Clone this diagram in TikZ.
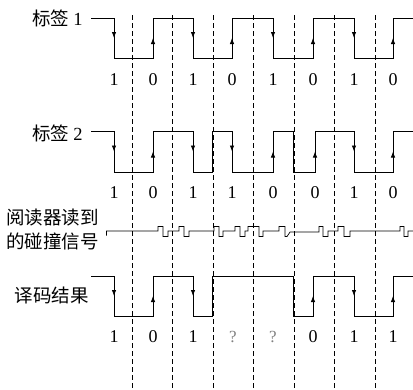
\documentclass[tikz,border=0pt]{standalone}
\usepackage{fontspec}
\setmainfont{Liberation Serif}
\newfontfamily\cjk{Noto Sans CJK SC}
\usetikzlibrary{arrows.meta}

\begin{document}
\begin{tikzpicture}[x=1pt,y=-1pt,
    line width=0.8pt,
    sig/.style={line join=miter},
    arr/.style={-{Latex[length=6pt,width=4.5pt]}},
    bound/.style={line width=0.7pt,dash pattern=on 5pt off 3pt},
    tag/.style={anchor=east,inner sep=0pt,font=\fontsize{18.5}{22}\selectfont},
    bit/.style={inner sep=0pt,font=\fontsize{18}{20}\selectfont},
    unk/.style={inner sep=0pt,text=black!50,font=\fontsize{17}{20}\selectfont}]
  \useasboundingbox (0,0) rectangle (413,389);
  % bit boundaries
  \foreach \x in {132,172.5,213,253.5,294,334.5,375.5}
    \draw[bound] (\x,15) -- (\x,389);
  % tag 1
  \node[tag] (tag1) at (83,18) {\cjk 标签\ \rmfamily 1};
  \coordinate (s1) at (91,18);
  \draw[sig] (s1) -- (114,18) -- (114,58) -- (153,58) -- (153,18) -- (193,18) -- (193,58)
    -- (232,58) -- (232,18) -- (273,18) -- (273,58) -- (313,58) -- (313,18) -- (354,18)
    -- (354,58) -- (393,58) -- (393,18) -- (413,18);
  \foreach \x in {114,193,273,354} \draw[arr] (\x,18) -- (\x,38);
  \foreach \x in {153,232,313,393} \draw[arr] (\x,58) -- (\x,38);
  \foreach \x/\b in {114/1,153/0,193/1,232/0,273/1,313/0,354/1,393/0}
    \node[bit] at (\x,80) {\b};
  % tag 2
  \node[tag] (tag2) at (83,133) {\cjk 标签\ \rmfamily 2};
  \coordinate (s2) at (91,131);
  \draw[sig] (s2) -- (114,131) -- (114,172) -- (153,172) -- (153,131) -- (193,131) -- (193,172)
    -- (212.5,172) -- (212.5,131) -- (232,131) -- (232,172) -- (273,172) -- (273,131)
    -- (293.5,131) -- (293.5,172) -- (315,172) -- (315,131) -- (354,131) -- (354,172)
    -- (393,172) -- (393,131) -- (413,131);
  \foreach \x in {114,193,232,354} \draw[arr] (\x,131) -- (\x,151.5);
  \foreach \x in {153,273,315,393} \draw[arr] (\x,172) -- (\x,151.5);
  \foreach \x/\b in {114/1,153/0,193/1,232/1,273/0,315/0,354/1,393/0}
    \node[bit] at (\x,193) {\b};
  % collision
  \node[tag,anchor=west,align=left,font=\fontsize{18.5}{24}\selectfont\cjk] (coll) at (6,229)
    {阅读器读到\\的碰撞信号};
  \coordinate (s3) at (106.5,235.5);
  \draw[line width=0.7pt] (s3) -- (106.5,231) -- (158,231) -- (158,226.5) -- (163,226.5) -- (163,236.5)
    -- (168,236.5) -- (168,231) -- (179,231) -- (179,226.5) -- (184,226.5) -- (184,236.5)
    -- (189,236.5) -- (189,231) -- (214,231) -- (214,226.5) -- (219,226.5) -- (219,236.5)
    -- (223,236.5) -- (223,231) -- (235,231) -- (235,226.5) -- (240,226.5) -- (240,236.5)
    -- (245,236.5) -- (245,231) -- (248,231) -- (248,226.5) -- (259,226.5) -- (259,236.5)
    -- (263,236.5) -- (263,231) -- (279,231) -- (279,226.5) -- (285,226.5) -- (285,236.5)
    -- (287,236.5) -- (290,232) -- (319,232) -- (319,226.5) -- (323,226.5) -- (323,236.5)
    -- (328,236.5) -- (328,231) -- (338,231) -- (338,226.5) -- (344,226.5) -- (344,236.5)
    -- (350,236.5) -- (350,231) -- (400,231) -- (400,226.5) -- (404,226.5) -- (404,236.5)
    -- (408,236.5) -- (408,231) -- (413,231);
  % decoded
  \node[tag] (dec) at (89,295) {\cjk 译码结果};
  \coordinate (s4) at (91,276);
  \draw[sig] (s4) -- (114,276) -- (114,316) -- (153,316) -- (153,276) -- (193,276) -- (193,316)
    -- (212.5,316) -- (212.5,276) -- (293.5,276) -- (293.5,316) -- (313,316) -- (313,276)
    -- (354,276) -- (354,316) -- (393,316) -- (393,276) -- (413,276);
  \foreach \x in {114,193,354} \draw[arr] (\x,276) -- (\x,296);
  \foreach \x in {153,313,393} \draw[arr] (\x,316) -- (\x,296);
  \foreach \x/\b in {114/1,153/0,193/1,313/0,354/1,393/1}
    \node[bit] at (\x,337) {\b};
  \foreach \x in {233,273} \node[unk] at (\x,337) {?};
\end{tikzpicture}
\end{document}
